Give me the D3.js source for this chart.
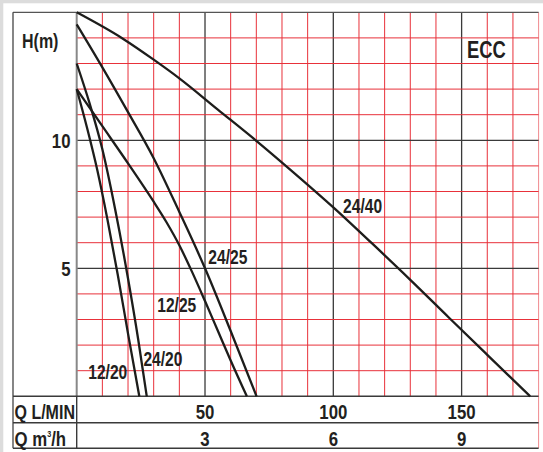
<!DOCTYPE html>
<html>
<head>
<meta charset="utf-8">
<script src="https://cdn.jsdelivr.net/npm/d3@7"></script>
<style>
html,body{margin:0;padding:0;background:#dcdcdc;}
svg{display:block;}
text{font-family:"Liberation Sans",Arial,sans-serif;font-weight:bold;fill:#231f20;}
</style>
</head>
<body>
<svg id="chart" width="543" height="452"></svg>
<script>
// ---- data (Q in L/min, H in m) ----
const qTickValues = [50, 100, 150];
const qTickLabels = ["50", "100", "150"];
const m3hTickLabels = ["3", "6", "9"];
const hTickValues = [5, 10];
const hTickLabels = ["5", "10"];
const seriesNames = ["24/40", "24/25", "12/25", "24/20", "12/20"];

const curve2440 = [[0,15],[18,13.97],[30,13.15],[40,12.42],[55,11.2],[70,9.98],[85,8.7],[100,7.38],[115,5.98],[130,4.55],[145,3.08],[160,1.62],[176.7,0]];
const curve2425 = [[0,14.53],[10,12.85],[20,11.1],[30,9.3],[40,7.2],[50,5.0],[60,2.55],[70.1,0]];
const curve1225 = [[0,12],[10,10.55],[20,9.1],[30,7.6],[35,6.8],[40,5.9],[45,4.85],[50,3.72],[55,2.56],[60,1.4],[66.3,0]];
const curve2420 = [[0,13],[5,11.45],[10,9.65],[15,7.3],[20,4.6],[24,2.2],[27.3,0]];
const curve1220 = [[0,12],[4,10.5],[8,8.85],[12,6.9],[16,4.75],[20,2.45],[24.4,0]];

// label anchors in data units (Q, H)
const labelQ = [103.8, 51.3, 31.4, 26.0, 4.5];
const labelH = [7.16, 5.17, 3.30, 1.18, 0.66];

const curves = [curve2440, curve2425, curve1225, curve2420, curve1220];

// ---- layout ----
const svg = d3.select("#chart");
const X0 = 76.7, X1 = 538.6, Y0 = 396.3, Y1 = 12.3;
const frameL = 13, frameB = 448.3, row2 = 422.7;
const x = d3.scaleLinear().domain([0, 180]).range([X0, X1]);
const y = d3.scaleLinear().domain([0, 15]).range([Y0, Y1]);

svg.append("rect").attr("x", 3.3).attr("y", 3.3).attr("width", 543).attr("height", 452).attr("fill", "#fff");

const red = "#e8313a";
const dark = "#3a3a3a";

// grid verticals
const gridQ = d3.range(10, 181, 10);
svg.append("g").selectAll("line").data(gridQ).join("line")
  .attr("x1", d => x(d)).attr("x2", d => x(d))
  .attr("y1", Y1).attr("y2", d => d === 180 ? frameB : Y0)
  .attr("stroke", d => qTickValues.includes(d) ? dark : (d === 180 ? "#f08a8f" : red))
  .attr("stroke-width", d => qTickValues.includes(d) ? 1.3 : 1);

// grid horizontals
const gridH = d3.range(1, 15, 1);
svg.append("g").selectAll("line").data(gridH).join("line")
  .attr("x1", X0).attr("x2", X1)
  .attr("y1", d => y(d)).attr("y2", d => y(d))
  .attr("stroke", d => hTickValues.includes(d) ? dark : red)
  .attr("stroke-width", d => hTickValues.includes(d) ? 1.3 : 1);

// y axis line
svg.append("line").attr("x1", X0).attr("x2", X0).attr("y1", Y1).attr("y2", Y0)
  .attr("stroke", "#888").attr("stroke-width", 2);

// frame and table lines
svg.append("line").attr("x1", frameL).attr("x2", X1).attr("y1", Y1).attr("y2", Y1).attr("stroke", "#555").attr("stroke-width", 1.3);
svg.append("line").attr("x1", frameL).attr("x2", frameL).attr("y1", Y1).attr("y2", frameB).attr("stroke", "#444").attr("stroke-width", 1.3);
[Y0, row2, frameB].forEach(v => {
  svg.append("line").attr("x1", frameL).attr("x2", X1).attr("y1", v).attr("y2", v).attr("stroke", dark).attr("stroke-width", 1.4);
});
svg.append("line").attr("x1", X0).attr("x2", X0).attr("y1", Y0).attr("y2", frameB).attr("stroke", dark).attr("stroke-width", 1.4);

// curves
const line = d3.line().x(d => x(d[0])).y(d => y(d[1])).curve(d3.curveMonotoneX);
svg.append("g").selectAll("path").data(curves).join("path")
  .attr("d", line).attr("fill", "none").attr("stroke", "#1d1d1b")
  .attr("stroke-width", 2.3).attr("stroke-linecap", "butt");

// condensed text helper
const SX = 0.8;
function ctext(px, py, str, size, anchor) {
  const g = svg.append("g").attr("transform", `translate(${px},${py}) scale(${SX},1)`);
  const t = g.append("text").attr("x", 0).attr("y", 0).attr("font-size", size).attr("text-anchor", anchor || "start");
  if (str !== null) t.text(str);
  return t;
}

// curve labels
seriesNames.forEach((n, i) => ctext(x(labelQ[i]), y(labelH[i]), n, 19.5, "start"));

// title and axis titles
ctext(467, 58, "ECC", 23, "start");
ctext(22, 47.5, "H(m)", 20, "start");

// y tick labels
hTickValues.forEach((v, i) => ctext(70.5, y(v) + 7.5, hTickLabels[i], 21, "end"));

// bottom table
ctext(14.5, 419, "Q L/MIN", 20, "start");
qTickValues.forEach((v, i) => ctext(x(v), 419, qTickLabels[i], 21, "middle"));
const t2 = ctext(14.5, 445.5, null, 21, "start");
t2.append("tspan").text("Q m");
t2.append("tspan").attr("font-size", 9).attr("dy", -9).text("3");
t2.append("tspan").attr("dy", 9).text("/h");
qTickValues.forEach((v, i) => ctext(x(v), 445.5, m3hTickLabels[i], 21, "middle"));
</script>
</body>
</html>
